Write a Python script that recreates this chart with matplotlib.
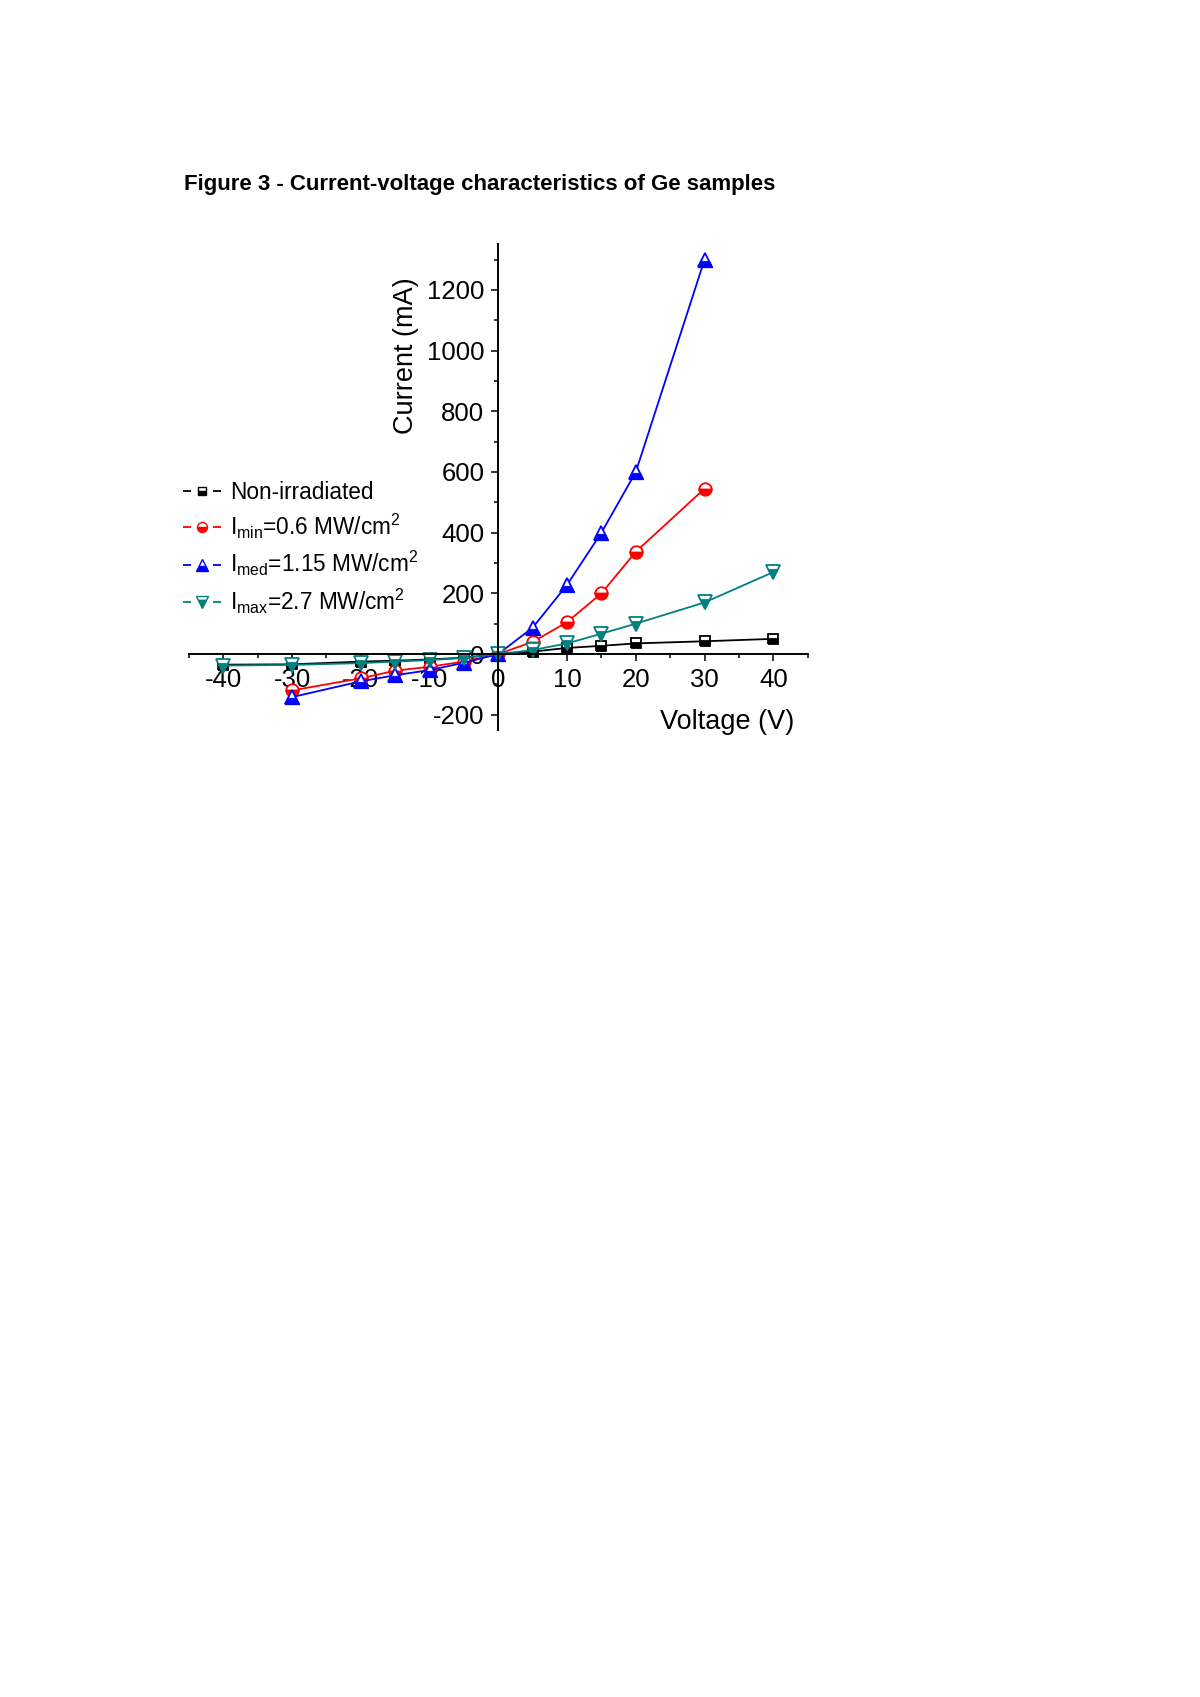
import matplotlib
matplotlib.use('Agg')
import matplotlib.pyplot as plt
from matplotlib.lines import Line2D
from matplotlib.ticker import MultipleLocator

plt.rcParams['font.family'] = ['Liberation Sans', 'DejaVu Sans']
plt.rcParams['mathtext.fontset'] = 'custom'
plt.rcParams['mathtext.rm'] = 'Liberation Sans'
plt.rcParams['mathtext.it'] = 'Liberation Sans:italic'
plt.rcParams['mathtext.bf'] = 'Liberation Sans:bold'
plt.rcParams['lines.scale_dashes'] = False
plt.rcParams['axes.unicode_minus'] = False

# 数据 (V, mA)
v_non = [-40, -30, -20, -15, -10, -5, 0, 5, 10, 15, 20, 30, 40]
i_non = [-35, -34, -25, -22, -18, -12, 0, 8, 20, 27, 35, 42, 50]

v_min = [-30, -20, -15, -10, -5, 0, 5, 10, 15, 20, 30]
i_min = [-120, -80, -55, -42, -25, 0, 40, 105, 200, 337, 545]

v_med = [-30, -20, -15, -10, -5, 0, 5, 10, 15, 20, 30]
i_med = [-142, -90, -70, -53, -29, 0, 87, 228, 400, 600, 1300]

v_max = [-40, -30, -20, -15, -10, -5, 0, 5, 10, 15, 20, 30, 40]
i_max = [-38, -36, -30, -25, -20, -13, 0, 13, 35, 67, 100, 170, 270]

labels = ['Non-irradiated',
          r'I$_{\mathrm{min}}$=0.6 MW/cm$^{2}$',
          r'I$_{\mathrm{med}}$=1.15 MW/cm$^{2}$',
          r'I$_{\mathrm{max}}$=2.7 MW/cm$^{2}$']

# Origin 风格的三角形半填充 (marker 坐标, -1..1)
TRI_FILL = {
    '^': [(-1, -1), (1, -1), (0.55, -0.1), (-0.55, -0.1)],
    'v': [(0, -1), (-0.72, 0.44), (0.72, 0.44)],
}

series = [
    (v_non, i_non, 'black', 's', 7.5),
    (v_min, i_min, '#FF0000', 'o', 9),
    (v_med, i_med, '#0000FF', '^', 10.5),
    (v_max, i_max, '#008080', 'v', 10.5),
]

fig = plt.figure(figsize=(12, 16.97), dpi=100)
ax = fig.add_axes([0.1574, 0.5699, 0.5157, 0.2861])

handles = []
for (v, i, color, marker, ms), label in zip(series, labels):
    if marker in TRI_FILL:
        fill = TRI_FILL[marker]
        ax.plot(v, i, color=color, lw=1.3, marker=marker, ms=ms,
                markerfacecolor='white', markeredgecolor=color,
                markeredgewidth=1.3)
        ax.plot(v, i, ls='none', marker=fill, ms=ms,
                markerfacecolor=color, markeredgecolor=color,
                markeredgewidth=0.5)
        h1 = Line2D([], [], color=color, lw=1.3, marker=marker,
                    ms=ms * 0.8, markerfacecolor='white',
                    markeredgecolor=color, markeredgewidth=1.0,
                    dashes=[5.8, 15.8])
        h2 = Line2D([], [], ls='none', marker=fill, ms=ms * 0.8,
                    markerfacecolor=color, markeredgecolor=color,
                    markeredgewidth=0.4)
        handles.append((h1, h2))
    else:
        ax.plot(v, i, color=color, lw=1.3, marker=marker, ms=ms,
                fillstyle='bottom', markerfacecolor=color,
                markerfacecoloralt='white', markeredgecolor=color,
                markeredgewidth=1.3)
        handles.append(Line2D([], [], color=color, lw=1.3, marker=marker,
                              ms=ms * 0.8, fillstyle='bottom',
                              markerfacecolor=color,
                              markerfacecoloralt='white',
                              markeredgecolor=color, markeredgewidth=1.0,
                              dashes=[5.8, 15.8]))

ax.set_xlim(-45, 45)
ax.set_ylim(-250, 1350)

# 坐标轴穿过原点
ax.spines['left'].set_position(('data', 0))
ax.spines['bottom'].set_position(('data', 0))
ax.spines['top'].set_visible(False)
ax.spines['right'].set_visible(False)
for s in ['left', 'bottom']:
    ax.spines[s].set_linewidth(1.4)

ax.xaxis.set_major_locator(MultipleLocator(10))
ax.xaxis.set_minor_locator(MultipleLocator(5))
ax.yaxis.set_major_locator(MultipleLocator(200))
ax.yaxis.set_minor_locator(MultipleLocator(100))
ax.tick_params(which='major', direction='out', length=5, width=1.1,
               labelsize=18.5, pad=5)
ax.tick_params(which='minor', direction='out', length=3, width=1.1)
ax.set_xticks([-40, -30, -20, -10, 0, 10, 20, 30, 40])
ax.set_yticks([-200, 0, 200, 400, 600, 800, 1000, 1200])

ax.set_xlabel('Voltage (V)', fontsize=19.5, ha='center', va='center')
ax.xaxis.set_label_coords(0.870, 0.017)
ax.set_ylabel('Current (mA)', fontsize=19.5, ha='center', va='center')
ax.yaxis.set_label_coords(0.3504, 0.770)

fig.legend(handles, labels, loc='upper left',
           bbox_to_anchor=(183 / 1200, 1 - 481 / 1697),
           frameon=False, fontsize=16.3, handlelength=1.68,
           handletextpad=0.4, labelspacing=0.36, borderpad=0,
           borderaxespad=0)

fig.text(0.1535, 1 - 189.7 / 1697,
         'Figure 3 - Current-voltage characteristics of Ge samples',
         fontsize=16, fontweight='bold', ha='left', va='baseline')

plt.savefig('out.png', dpi=100)
plt.close()
